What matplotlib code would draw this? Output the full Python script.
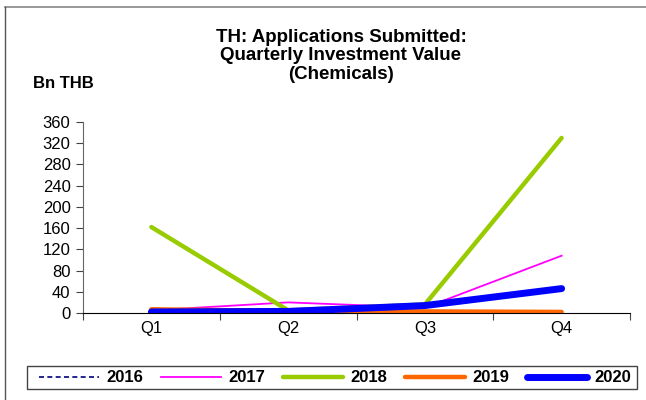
import matplotlib.pyplot as plt
from matplotlib.lines import Line2D
from matplotlib.patches import Rectangle

plt.rcParams['font.family'] = ['Liberation Sans', 'DejaVu Sans']

quarters = ['Q1', 'Q2', 'Q3', 'Q4']
v2016 = [0, 0, 0, 0]
v2017 = [5, 20, 10, 108]
v2018 = [162, 5, 16, 330]
v2019 = [7, 4, 3, 2]
v2020 = [2, 3, 14, 46]

fig = plt.figure(figsize=(6.46, 4.0), dpi=100)
ax = fig.add_axes([83/646, 1-313/400, (630-83)/646, (313-122)/400])

x = range(len(quarters))
ax.plot(x, v2016, color='#000080', lw=1.2, ls=(0, (3, 2)), label='2016')
ax.plot(x, v2017, color='#ff00ff', lw=1.3, label='2017')
ax.plot(x, v2018, color='#99cc00', lw=3.2, solid_capstyle='round', label='2018')
ax.plot(x, v2019, color='#ff6600', lw=3.2, solid_capstyle='round', label='2019')
ax.plot(x, v2020, color='#0000ff', lw=5, solid_capstyle='round', label='2020')

ax.set_xlim(-0.5, 3.5)
ax.set_ylim(0, 360)
ax.set_yticks(range(0, 361, 40))
ax.set_xticks([-0.5, 0.5, 1.5, 2.5, 3.5])
ax.set_xticklabels([])
ax.set_xticks(list(x), minor=True)
ax.set_xticklabels(quarters, minor=True)
ax.tick_params(axis='x', which='minor', length=0, pad=6, labelsize=12)
ax.tick_params(axis='x', which='major', length=5, width=0.8, color='#444444')
ax.tick_params(axis='y', length=5, width=0.8, color='#444444', labelsize=12, pad=4)
for s in ['top', 'right']:
    ax.spines[s].set_visible(False)
ax.spines['left'].set_color('#666666')
ax.spines['bottom'].set_color('black')

fig.text(341/646, 1-56/400, 'TH: Applications Submitted:\nQuarterly Investment Value\n(Chemicals)',
         ha='center', va='center', fontsize=13.5, fontweight='bold', linespacing=1.12)
fig.text(33/646, 1-83/400, 'Bn THB', ha='left', va='center', fontsize=12, fontweight='bold')

# frame lines of the chart area
fig.add_artist(Line2D([5/646, 1], [1-7/400, 1-7/400], color='#888888', lw=1.2, transform=fig.transFigure))
fig.add_artist(Line2D([5/646, 5/646], [0, 1-7/400], color='#555555', lw=1, transform=fig.transFigure))

# legend box
fig.add_artist(Rectangle((27/646, 1-389/400), (637-27)/646, 23/400, transform=fig.transFigure,
                         fill=False, edgecolor='#444444', lw=1))
fig.legend(loc='center left', bbox_to_anchor=(39/646, 1-378/400), ncol=5, frameon=False,
           handlelength=3.6, handletextpad=0.45, columnspacing=1.05, borderpad=0, borderaxespad=0,
           prop={'weight': 'bold', 'size': 12})

plt.savefig('out.png', dpi=100)
